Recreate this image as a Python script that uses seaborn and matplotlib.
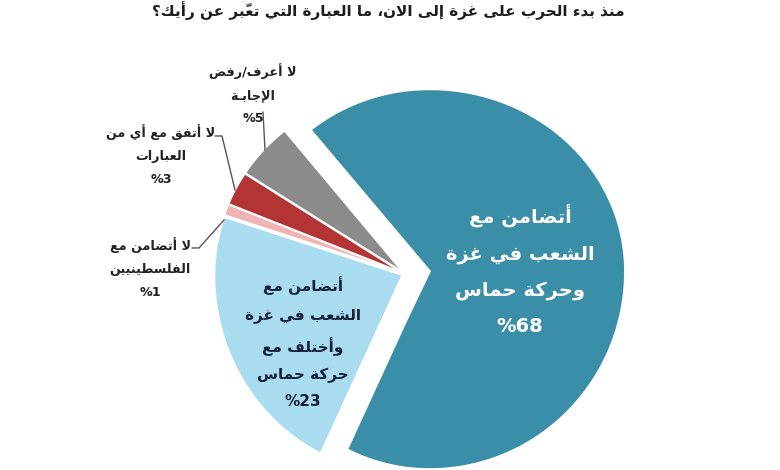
import numpy as np
import matplotlib
matplotlib.use("Agg")
import matplotlib.pyplot as plt
from matplotlib.patches import Polygon
from matplotlib.path import Path
import seaborn as sns

# ---------------- data ----------------
title = "منذ بدء الحرب على غزة إلى الان، ما العبارة التي تعبّر عن رأيك؟"
categories = [
    "أتضامن مع\nالشعب في غزة\nوحركة حماس",
    "أتضامن مع\nالشعب في غزة\nوأختلف مع\nحركة حماس",
    "لا أتضامن مع\nالفلسطينيين",
    "لا أتفق مع أي من\nالعبارات",
    "لا أعرف/رفض\nالإجابـة",
]
values = [68, 23, 1, 3, 5]
colors = ["#3b8ea8", "#a9dcef", "#f1b4b4", "#b23434", "#8b8b8b"]

# ---------------- minimal Arabic shaping (presentation forms + visual order) ----------------
_LET = [('\u0621', 0xFE80, 1), ('\u0622', 0xFE81, 2), ('\u0623', 0xFE83, 2), ('\u0624', 0xFE85, 2),
        ('\u0625', 0xFE87, 2), ('\u0626', 0xFE89, 4), ('\u0627', 0xFE8D, 2), ('\u0628', 0xFE8F, 4),
        ('\u0629', 0xFE93, 2), ('\u062A', 0xFE95, 4), ('\u062B', 0xFE99, 4), ('\u062C', 0xFE9D, 4),
        ('\u062D', 0xFEA1, 4), ('\u062E', 0xFEA5, 4), ('\u062F', 0xFEA9, 2), ('\u0630', 0xFEAB, 2),
        ('\u0631', 0xFEAD, 2), ('\u0632', 0xFEAF, 2), ('\u0633', 0xFEB1, 4), ('\u0634', 0xFEB5, 4),
        ('\u0635', 0xFEB9, 4), ('\u0636', 0xFEBD, 4), ('\u0637', 0xFEC1, 4), ('\u0638', 0xFEC5, 4),
        ('\u0639', 0xFEC9, 4), ('\u063A', 0xFECD, 4), ('\u0641', 0xFED1, 4), ('\u0642', 0xFED5, 4),
        ('\u0643', 0xFED9, 4), ('\u0644', 0xFEDD, 4), ('\u0645', 0xFEE1, 4), ('\u0646', 0xFEE5, 4),
        ('\u0647', 0xFEE9, 4), ('\u0648', 0xFEED, 2), ('\u0649', 0xFEEF, 2), ('\u064A', 0xFEF1, 4)]
FORMS = {c: (b, n) for c, b, n in _LET}
LAMALEF = {'\u0622': 0xFEF5, '\u0623': 0xFEF7, '\u0625': 0xFEF9, '\u0627': 0xFEFB}
TRANSP = set(chr(c) for c in range(0x064B, 0x0653)) | {'\u0670'}


def _nf(c):
    if c is None:
        return 0
    if c == '\u0640':
        return 4
    return FORMS[c][1] if c in FORMS else 0


def _shape_line(s):
    ch = list(s)
    n = len(ch)
    out = []
    i = 0
    while i < n:
        c = ch[i]
        if c in TRANSP or _nf(c) == 0:
            out.append(c); i += 1; continue
        j = i - 1
        while j >= 0 and ch[j] in TRANSP:
            j -= 1
        prev_dual = j >= 0 and _nf(ch[j]) == 4
        k = i + 1
        while k < n and ch[k] in TRANSP:
            k += 1
        nxt = ch[k] if k < n else None
        if c == '\u0644' and nxt in LAMALEF:
            out.append(chr(LAMALEF[nxt] + (1 if prev_dual else 0)))
            out.extend(ch[i + 1:k])
            i = k + 1
            continue
        if c == '\u0640':
            out.append(c); i += 1; continue
        base, nfm = FORMS[c]
        cp = prev_dual and nfm >= 2
        cn = nfm == 4 and _nf(nxt) >= 2
        idx = 3 if (cp and cn) else 1 if cp else 2 if cn else 0
        out.append(chr(base + idx))
        i += 1
    clusters = []
    for c in out:
        if c in TRANSP and clusters:
            clusters[-1] += c
        else:
            clusters.append(c)
    runs = []
    for cl in clusters:
        ltr = cl[0].isascii() and cl[0].isalnum()
        if runs and runs[-1][0] == ltr:
            runs[-1][1].append(cl)
        else:
            runs.append([ltr, [cl]])
    vis = []
    for ltr, cls in reversed(runs):
        vis.extend(cls if ltr else reversed(cls))
    return "".join(vis)


def ar(s):
    return "\n".join(_shape_line(line) for line in s.split("\n"))


# ---------------- figure ----------------
sns.set_theme(style="white")
plt.rcParams["font.family"] = ["DejaVu Sans"]

W, H = 780, 470
CX, CY = 405, 274                 # pie centre (pixels)
RX_R, RX_L = 195, 188             # horizontal radii (right / left)
RY_UP, RY_DN = 182, 198           # vertical radii (upper / lower)

fig = plt.figure(figsize=(W / 100, H / 100), dpi=100)
ax = fig.add_axes([0, 0, 1, 1])

wedges, _ = ax.pie(values, colors=colors, startangle=129, counterclock=False,
                   explode=[0.129, 0.015, 0.015, 0.015, 0.015], radius=1, center=(0, 0))


def to_px(pts):
    u, v = pts[:, 0], pts[:, 1]
    x = CX + u * np.where(u >= 0, RX_R, RX_L)
    y = CY - v * np.where(v >= 0, RY_UP, RY_DN)
    return np.column_stack([x, y])


for w in wedges:
    segs = []
    for seg, code in w.get_path().iter_bezier():
        t = np.linspace(0, 1, 2 if code == Path.LINETO else 40)
        segs.append(np.atleast_2d(seg(t)))
    poly = to_px(np.vstack(segs))
    ax.add_patch(Polygon(poly, closed=True, facecolor=w.get_facecolor(),
                         edgecolor="white", linewidth=1.3, joinstyle="miter"))
    w.remove()

ax.set_aspect("auto")
ax.set_xlim(0, W)
ax.set_ylim(H, 0)
ax.axis("off")

labels = [f"{c}\n{v}%" for c, v in zip(categories, values)]

# inside labels
ax.text(520, 270, ar(labels[0]), ha="center", va="center", color="white",
        fontsize=14, fontweight="bold", linespacing=2.15)
ax.text(303, 343, ar(labels[1]), ha="center", va="center", color="#14203a",
        fontsize=11, fontweight="bold", linespacing=1.95)

# outside labels
out_pos = {2: (150, 268), 3: (161, 155), 4: (253, 94)}
for i, (x, y) in out_pos.items():
    ax.text(x, y, ar(labels[i]), ha="center", va="center", color="#222222",
            fontsize=9.2, fontweight="bold", linespacing=1.96)

leaders = [
    [(263, 112), (265, 150)],
    [(215, 136), (222, 136), (235, 190)],
    [(192, 248), (199, 248), (224, 220)],
]
for pts in leaders:
    xs, ys = zip(*pts)
    ax.plot(xs, ys, color="#555555", lw=1)

# title
ax.text(388, 11, ar(title), ha="center", va="center", color="#1d1d1d",
        fontsize=11, fontweight="bold")

fig.savefig("out.png", dpi=100)
